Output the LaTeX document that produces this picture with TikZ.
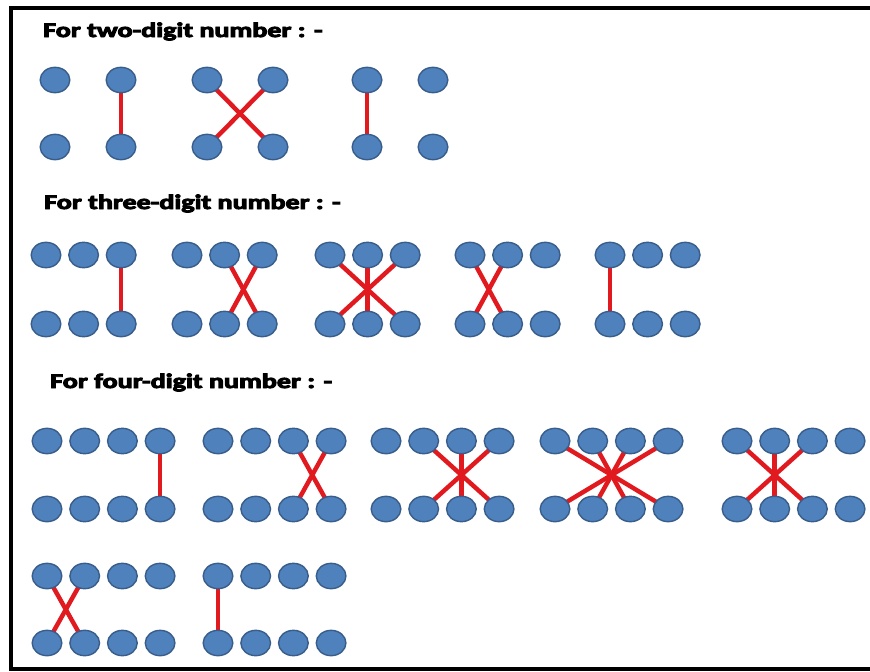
\documentclass[tikz,border=0pt]{standalone}
\usepackage{fontspec}
\newfontfamily\carlito[BoldFeatures={FakeBold=4}]{Carlito}
\usetikzlibrary{shapes.geometric, backgrounds}
\definecolor{dotblue}{RGB}{79,129,189}
\definecolor{dotedge}{RGB}{56,93,138}
\definecolor{linkred}{RGB}{225,26,32}

\begin{document}
\begin{tikzpicture}[x=0.03cm, y=-0.03cm,
  dot/.style={ellipse, draw=dotedge, fill=dotblue, line width=1.2pt, minimum width=0.89cm, minimum height=0.76cm, inner sep=0pt},
  link/.style={draw=linkred, line width=3.8pt},
  heading/.style={anchor=base west, inner sep=0pt, font=\carlito\bfseries\fontsize{17.6}{20}\selectfont},
  frame/.style={line width=3.4pt}
]
\useasboundingbox (0,0) rectangle (870,671);
\draw[frame] (870,8) -- (11,8) -- (11,669) -- (870,669);

\node[heading] (head2) at (43,37) {\scalebox{1.36}[1]{For two-digit number : -}};
\node[heading] (head3) at (44,209) {\scalebox{1.36}[1]{For three-digit number : -}};
\node[heading] (head4) at (50,388) {\scalebox{1.36}[1]{For four-digit number : -}};

% two-digit patterns
\foreach \g/\xs in {A1/55, A2/207, A3/367}
  \foreach \i in {1,2} {
    \node[dot] (\g-t\i) at ({\xs+(\i-1)*66},80) {};
    \node[dot] (\g-b\i) at ({\xs+(\i-1)*66},147) {};
  }
% three-digit patterns
\foreach \g/\xs in {B1/46, B2/187, B3/330, B4/470, B5/610}
  \foreach \i in {1,2,3} {
    \node[dot] (\g-t\i) at ({\xs+(\i-1)*37.6},255) {};
    \node[dot] (\g-b\i) at ({\xs+(\i-1)*37.6},324) {};
  }
% four-digit patterns
\foreach \g/\xs/\yt/\yb in {C1/47/441/509, C2/218/441/509, C3/386/441/509, C4/555/441/509, C5/737/441/509, D1/47/576/643, D2/218/576/643}
  \foreach \i in {1,...,4} {
    \node[dot] (\g-t\i) at ({\xs+(\i-1)*37.7},\yt) {};
    \node[dot] (\g-b\i) at ({\xs+(\i-1)*37.7},\yb) {};
  }

\begin{scope}[on background layer]
\foreach \u/\v in {A1-t2/A1-b2, A2-t1/A2-b2, A2-t2/A2-b1, A3-t1/A3-b1,
    B1-t3/B1-b3, B2-t2/B2-b3, B2-t3/B2-b2, B3-t1/B3-b3, B3-t3/B3-b1, B3-t2/B3-b2,
    B4-t1/B4-b2, B4-t2/B4-b1, B5-t1/B5-b1,
    C1-t4/C1-b4, C2-t3/C2-b4, C2-t4/C2-b3, C3-t2/C3-b4, C3-t4/C3-b2, C3-t3/C3-b3,
    C4-t1/C4-b4, C4-t4/C4-b1, C4-t2/C4-b3, C4-t3/C4-b2,
    C5-t1/C5-b3, C5-t3/C5-b1, C5-t2/C5-b2,
    D1-t1/D1-b2, D1-t2/D1-b1, D2-t1/D2-b1}
  \draw[link] (\u.center) -- (\v.center);
\end{scope}
\end{tikzpicture}
\end{document}
